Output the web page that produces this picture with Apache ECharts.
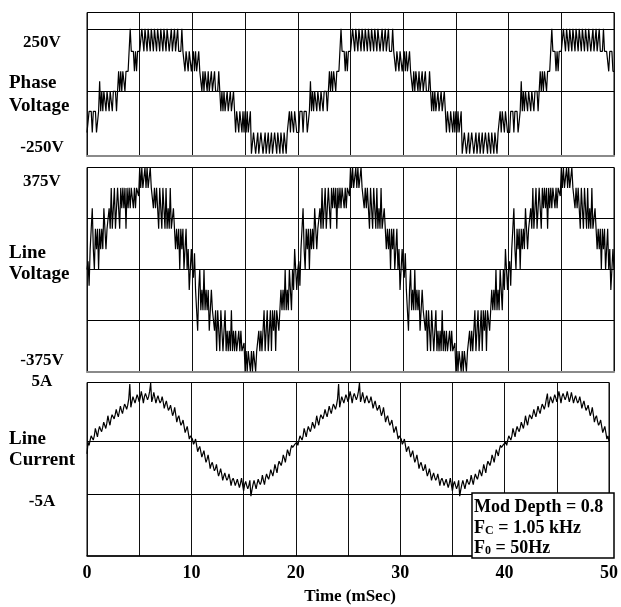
<!DOCTYPE html>
<html><head><meta charset="utf-8">
<script src="https://cdn.jsdelivr.net/npm/echarts@6/dist/echarts.min.js"></script>
<style>html,body{margin:0;padding:0;background:#fff}#c{width:621px;height:607px}</style>
</head><body><div id="c"></div>
<script>
// sampling step of the waveforms (ms)
const sampleStepMs = 0.1;
const xTickLabels = ['0','10','20','30','40','50'];

// Phase voltage (V), one row per ms
const phaseVoltage = [
-165,-165,-80,-80,-80,-165,-80,-80,-80,-165,
-165,-80,40,-80,0,-80,0,0,-80,0,
0,-80,0,0,-80,0,0,0,-80,0,
80,0,80,0,80,80,0,80,80,80,
80,250,160,160,160,80,160,80,160,160,
160,160,250,250,160,250,250,160,250,250,
160,250,250,160,250,250,160,250,250,160,
250,250,160,250,250,160,250,250,160,160,
250,160,160,250,160,160,250,160,160,160,
250,160,160,80,160,160,80,160,160,80,
80,160,80,160,80,80,160,80,80,0,
80,0,80,80,0,80,0,0,80,0,
0,80,0,0,0,80,0,-80,0,-80,
0,-80,-80,0,-80,-80,0,-80,-80,0,
-80,-165,-80,-80,-165,-80,-80,-165,-80,-165,
-80,-165,-80,-165,-165,-80,-250,-250,-165,-165,
-250,-250,-165,-250,-250,-165,-165,-250,-250,-165,
-250,-250,-165,-250,-250,-165,-250,-250,-165,-165,
-250,-165,-165,-250,-165,-165,-250,-165,-165,-250,
-165,-165,-80,-165,-80,-80,-165,-80,-80,-165,
-165,-165,-80,-80,-80,-165,-80,-80,-80,-165,
-165,-80,40,-80,0,-80,0,0,-80,0,
0,-80,0,0,-80,0,0,0,-80,0,
80,0,80,0,80,80,0,80,80,80,
80,250,160,160,160,80,160,80,160,160,
160,160,250,250,160,250,250,160,250,250,
160,250,250,160,250,250,160,250,250,160,
250,250,160,250,250,160,250,250,160,160,
250,160,160,250,160,160,250,160,160,160,
250,160,160,80,160,160,80,160,160,80,
80,160,80,160,80,80,160,80,80,0,
80,0,80,80,0,80,0,0,80,0,
0,80,0,0,0,80,0,-80,0,-80,
0,-80,-80,0,-80,-80,0,-80,-80,0,
-80,-165,-80,-80,-165,-80,-80,-165,-80,-165,
-80,-165,-80,-165,-165,-80,-250,-250,-165,-165,
-250,-250,-165,-250,-250,-165,-165,-250,-250,-165,
-250,-250,-165,-250,-250,-165,-250,-250,-165,-165,
-250,-165,-165,-250,-165,-165,-250,-165,-165,-250,
-165,-165,-80,-165,-80,-80,-165,-80,-80,-165,
-165,-165,-80,-80,-80,-165,-80,-80,-80,-165,
-165,-80,40,-80,0,-80,0,0,-80,0,
0,-80,0,0,-80,0,0,0,-80,0,
80,0,80,0,80,80,0,80,80,80,
80,250,160,160,160,80,160,80,160,160,
160,160,250,250,160,250,250,160,250,250,
160,250,250,160,250,250,160,250,250,160,
250,250,160,250,250,160,250,250,160,160,
250,160,160,250,160,160,250,160,160,160,
250,160,160,160,160,80,160,160,160,80,
80
];

// Line voltage (V)
const lineVoltage = [
0,30,-60,75,150,225,75,0,150,75,
150,0,150,75,150,75,225,150,75,150,
150,225,150,300,150,225,300,150,225,300,
225,150,300,225,300,225,300,150,300,225,
300,225,300,300,225,300,225,300,300,270,
375,300,375,300,300,375,300,375,300,300,
375,300,300,225,300,225,300,225,150,300,
225,150,300,225,150,300,150,225,150,300,
150,150,225,150,75,150,75,150,0,150,
75,150,0,75,150,0,75,-75,0,75,
0,-30,60,-75,-150,-225,-75,0,-150,-75,
-150,0,-150,-75,-150,-75,-225,-150,-75,-150,
-150,-225,-150,-300,-150,-225,-300,-150,-225,-300,
-225,-150,-300,-225,-300,-225,-300,-150,-300,-225,
-300,-225,-300,-300,-225,-300,-225,-300,-300,-270,
-375,-300,-375,-300,-300,-375,-300,-375,-300,-300,
-375,-300,-300,-225,-300,-225,-300,-225,-150,-300,
-225,-150,-300,-225,-150,-300,-150,-225,-150,-300,
-150,-150,-225,-150,-75,-150,-75,-150,0,-150,
-75,-150,0,-75,-150,0,-75,75,0,-75,
0,30,-60,75,150,225,75,0,150,75,
150,0,150,75,150,75,225,150,75,150,
150,225,150,300,150,225,300,150,225,300,
225,150,300,225,300,225,300,150,300,225,
300,225,300,300,225,300,225,300,300,270,
375,300,375,300,300,375,300,375,300,300,
375,300,300,225,300,225,300,225,150,300,
225,150,300,225,150,300,150,225,150,300,
150,150,225,150,75,150,75,150,0,150,
75,150,0,75,150,0,75,-75,0,75,
0,-30,60,-75,-150,-225,-75,0,-150,-75,
-150,0,-150,-75,-150,-75,-225,-150,-75,-150,
-150,-225,-150,-300,-150,-225,-300,-150,-225,-300,
-225,-150,-300,-225,-300,-225,-300,-150,-300,-225,
-300,-225,-300,-300,-225,-300,-225,-300,-300,-270,
-375,-300,-375,-300,-300,-375,-300,-375,-300,-300,
-375,-300,-300,-225,-300,-225,-300,-225,-150,-300,
-225,-150,-300,-225,-150,-300,-150,-225,-150,-300,
-150,-150,-225,-150,-75,-150,-75,-150,0,-150,
-75,-150,0,-75,-150,0,-75,75,0,-75,
0,30,-60,75,150,225,75,0,150,75,
150,0,150,75,150,75,225,150,75,150,
150,225,150,300,150,225,300,150,225,300,
225,150,300,225,300,225,300,150,300,225,
300,225,300,300,225,300,225,300,300,270,
375,300,375,300,300,375,300,375,300,300,
375,300,300,225,300,225,300,225,150,300,
225,150,300,225,150,300,150,225,150,300,
150,150,225,150,75,150,75,150,0,150,
75,150,0,75,150,0,75,-75,0,75,
0
];

// Line current (A)
const lineCurrent = [
-1.2,-0.1,-0.4,0.1,0.5,0.3,0.1,0.5,1.2,0.8,
0.4,1.0,1.4,1.1,0.9,1.3,1.8,1.5,1.2,1.7,
2.4,1.9,1.5,2.1,2.5,2.3,2.1,2.5,3.0,2.6,
2.3,2.8,3.3,2.9,2.6,3.1,3.5,3.3,3.0,3.4,
4.0,5.4,3.2,3.7,4.2,3.9,3.6,4.0,4.4,4.1,
3.7,4.1,4.7,4.2,3.6,4.2,4.5,4.2,3.9,4.2,
4.7,5.5,3.7,4.1,4.6,4.1,3.6,4.0,4.3,3.9,
3.6,3.8,4.2,3.7,3.1,3.5,3.8,3.3,2.9,3.1,
3.4,2.9,2.4,2.7,3.2,2.5,1.8,2.2,2.4,1.9,
1.5,1.7,2.0,1.4,0.8,1.1,1.4,0.8,0.2,0.5,
0.6,0.2,-0.3,-0.1,0.2,-0.4,-1.0,-0.7,-0.5,-1.0,
-1.5,-1.2,-0.9,-1.5,-2.0,-1.7,-1.3,-1.9,-2.6,-2.2,
-2.0,-2.4,-2.8,-2.6,-2.2,-2.8,-3.3,-3.0,-2.6,-3.1,
-3.7,-3.3,-3.0,-3.4,-3.7,-3.5,-3.1,-3.6,-4.2,-3.7,
-3.5,-3.8,-4.2,-3.9,-3.6,-4.0,-4.4,-4.0,-3.5,-4.1,
-4.7,-4.1,-3.8,-4.2,-4.5,-4.2,-3.7,-5.2,-4.6,-4.1,
-3.7,-4.1,-4.5,-4.0,-3.6,-3.9,-4.1,-3.8,-3.2,-3.7,
-4.1,-3.5,-3.1,-3.4,-3.6,-3.2,-2.7,-3.0,-3.3,-2.8,
-2.2,-2.6,-3.0,-2.3,-1.9,-2.1,-2.3,-1.9,-1.3,-1.6,
-2.0,-1.4,-0.8,-1.1,-1.4,-0.8,-0.4,-0.6,-0.7,-0.3,
-0.2,-0.1,-0.4,0.1,0.5,0.3,0.1,0.5,1.2,0.8,
0.4,1.0,1.4,1.1,0.9,1.3,1.8,1.5,1.2,1.7,
2.4,1.9,1.5,2.1,2.5,2.3,2.1,2.5,3.0,2.6,
2.3,2.8,3.3,2.9,2.6,3.1,3.5,3.3,3.0,3.4,
4.0,5.4,3.2,3.7,4.2,3.9,3.6,4.0,4.4,4.1,
3.7,4.1,4.7,4.2,3.6,4.2,4.5,4.2,3.9,4.2,
4.7,5.5,3.7,4.1,4.6,4.1,3.6,4.0,4.3,3.9,
3.6,3.8,4.2,3.7,3.1,3.5,3.8,3.3,2.9,3.1,
3.4,2.9,2.4,2.7,3.2,2.5,1.8,2.2,2.4,1.9,
1.5,1.7,2.0,1.4,0.8,1.1,1.4,0.8,0.2,0.5,
0.6,0.2,-0.3,-0.1,0.2,-0.4,-1.0,-0.7,-0.5,-1.0,
-1.5,-1.2,-0.9,-1.5,-2.0,-1.7,-1.3,-1.9,-2.6,-2.2,
-2.0,-2.4,-2.8,-2.6,-2.2,-2.8,-3.3,-3.0,-2.6,-3.1,
-3.7,-3.3,-3.0,-3.4,-3.7,-3.5,-3.1,-3.6,-4.2,-3.7,
-3.5,-3.8,-4.2,-3.9,-3.6,-4.0,-4.4,-4.0,-3.5,-4.1,
-4.7,-4.1,-3.8,-4.2,-4.5,-4.2,-3.7,-5.2,-4.6,-4.1,
-3.7,-4.1,-4.5,-4.0,-3.6,-3.9,-4.1,-3.8,-3.2,-3.7,
-4.1,-3.5,-3.1,-3.4,-3.6,-3.2,-2.7,-3.0,-3.3,-2.8,
-2.2,-2.6,-3.0,-2.3,-1.9,-2.1,-2.3,-1.9,-1.3,-1.6,
-2.0,-1.4,-0.8,-1.1,-1.4,-0.8,-0.4,-0.6,-0.7,-0.3,
-0.2,-0.1,-0.4,0.1,0.5,0.3,0.1,0.5,1.2,0.8,
0.4,1.0,1.4,1.1,0.9,1.3,1.8,1.5,1.2,1.7,
2.4,1.9,1.5,2.1,2.5,2.3,2.1,2.5,3.0,2.6,
2.3,2.8,3.3,2.9,2.6,3.1,3.5,3.3,3.0,3.4,
4.0,4.5,3.2,3.7,4.2,3.9,3.6,4.0,4.4,4.1,
3.7,4.1,4.7,4.2,3.6,4.2,4.5,4.2,3.9,4.2,
4.7,4.6,3.7,4.1,4.6,4.1,3.6,4.0,4.3,3.9,
3.6,3.8,4.2,3.7,3.1,3.5,3.8,3.3,2.9,3.1,
3.4,2.9,2.4,2.7,3.2,2.5,1.8,2.2,2.4,1.9,
1.5,1.7,2.0,1.4,0.8,1.1,1.4,0.8,0.2,0.5,
0.0
];

// panel y-axis ranges and grid line values
const panelRanges = [[-257, 315.5], [-375, 375], [-10.85, 5.54]];
const panelGridValues = [[0, 250], [-187.5, 0, 187.5], [-5, 0]];
const panelLabels = [
  ['250V', 'Phase', 'Voltage', '-250V'],
  ['375V', 'Line', 'Voltage', '-375V'],
  ['5A', 'Line', 'Current', '-5A']
];
const legendLines = ['Mod Depth = 0.8', ['F', 'C', ' = 1.05 kHz'], ['F', '0', ' = 50Hz']];
const xAxisTitle = 'Time (mSec)';

const FONT = '"Liberation Serif", "Times New Roman", serif';
const toPairs = arr => arr.map((v, i) => [Math.round(i * sampleStepMs * 10) / 10, v]);

const gridBoxes = [
  {left: 87, right: 7, top: 12.5, height: 143},
  {left: 87, right: 7, top: 167.5, height: 204},
  {left: 87, right: 7, top: 382.5, height: 173.5}
];
const seriesData = [phaseVoltage, lineVoltage, lineCurrent];

const option = {
  animation: false,
  backgroundColor: '#fff',
  grid: gridBoxes.map(g => Object.assign({show: true, borderColor: '#000', borderWidth: 1, backgroundColor: 'transparent'}, g)),
  xAxis: gridBoxes.map((g, i) => ({
    type: 'value', gridIndex: i, min: 0, max: 50, interval: 5,
    axisLine: {show: true, onZero: false, lineStyle: {color: i < 2 ? '#8a8a8a' : '#000', width: i < 2 ? 2 : 1.5}},
    axisTick: {show: false},
    splitLine: {show: true, lineStyle: {color: '#111', width: 1}},
    axisLabel: i < 2 ? {show: false} : {
      show: true, margin: 8, color: '#000', fontFamily: FONT, fontWeight: 'bold', fontSize: 18,
      formatter: v => (v % 10 === 0 ? xTickLabels[v / 10] : '')
    }
  })),
  yAxis: panelRanges.map((r, i) => ({
    type: 'value', gridIndex: i, min: r[0], max: r[1],
    axisLine: {show: false}, axisTick: {show: false}, axisLabel: {show: false}, splitLine: {show: false}
  })),
  series: seriesData.map((arr, i) => ({
    type: 'line', xAxisIndex: i, yAxisIndex: i, data: toPairs(arr),
    showSymbol: false, symbol: 'none', clip: false,
    lineStyle: {color: '#000', width: 1.2},
    markLine: {
      silent: true, symbol: 'none', label: {show: false},
      lineStyle: {color: '#000', width: 1, type: 'solid'},
      data: panelGridValues[i].map(v => ({yAxis: v}))
    }
  })),
  graphic: []
};

// left-hand labels
const labelY = [[43, 83, 106, 148], [182, 253, 274, 361], [382, 439, 460, 502]];
const g = option.graphic;
panelLabels.forEach((labs, i) => {
  labs.forEach((t, j) => {
    const isValue = (j === 0 || j === 3);
    g.push({type: 'text', x: isValue ? 42 : 9, y: labelY[i][j], z: 50,
      style: {text: t, fill: '#000', font: 'bold ' + (isValue ? 17 : 19) + 'px ' + FONT,
        align: isValue ? 'center' : 'left', verticalAlign: 'middle'}});
  });
});
g.push({type: 'text', x: 350, y: 597, z: 50,
  style: {text: xAxisTitle, fill: '#000', font: 'bold 17px ' + FONT, align: 'center', verticalAlign: 'middle'}});
// legend box
g.push({type: 'rect', z: 100, shape: {x: 472, y: 493, width: 142, height: 65},
  style: {fill: '#fff', stroke: '#000', lineWidth: 1.5}});
const rich = {
  n: {fontFamily: FONT, fontWeight: 'bold', fontSize: 18, color: '#000'},
  s: {fontFamily: FONT, fontWeight: 'bold', fontSize: 12, color: '#000', verticalAlign: 'bottom', padding: [6, 0, 0, 0]}
};
const legendY = [507, 528, 548];
legendLines.forEach((ln, k) => {
  const txt = Array.isArray(ln) ? '{n|' + ln[0] + '}{s|' + ln[1] + '}{n|' + ln[2] + '}' : '{n|' + ln + '}';
  g.push({type: 'text', z: 101, x: 474, y: legendY[k],
    style: {text: txt, rich: rich, align: 'left', verticalAlign: 'middle'}});
});

const chart = echarts.init(document.getElementById('c'), null, {renderer: 'canvas'});
chart.setOption(option);
</script></body></html>
